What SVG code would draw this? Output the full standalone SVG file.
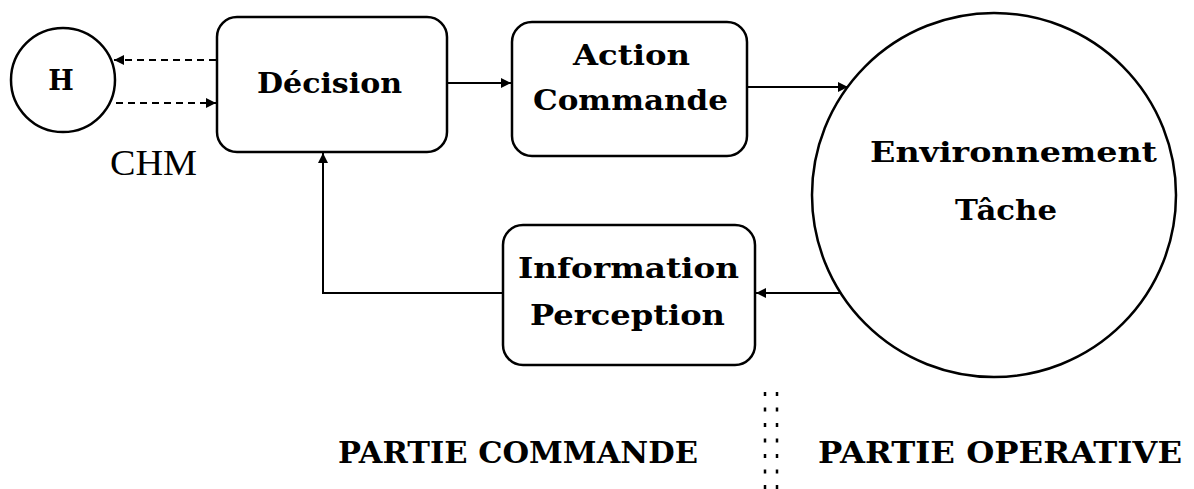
<svg xmlns="http://www.w3.org/2000/svg" width="1194" height="489" viewBox="0 0 1194 489">
  <style>
    .node { fill: #ffffff; stroke: #000000; stroke-width: 2.5; }
    .lbl { font-family: "DejaVu Serif", "Liberation Serif", serif; font-weight: bold; font-size: 27px; fill: #000000; }
    .chm { font-family: "Liberation Serif", "Times New Roman", serif; font-size: 35px; fill: #000000; }
    .part { font-family: "DejaVu Serif", "Liberation Serif", serif; font-weight: bold; font-size: 30px; fill: #000000; }
    .link { fill: none; stroke: #000000; stroke-width: 2; }
    .dash { stroke-dasharray: 7 5; }
    .sep { fill: none; stroke: #000000; stroke-width: 2.5; stroke-dasharray: 4 11.5; }
  </style>
  <defs>
    <marker id="tip" viewBox="0 0 10 10" refX="10" refY="5" markerWidth="5.5" markerHeight="5" orient="auto" markerUnits="strokeWidth">
      <path d="M0,0 L10,5 L0,10 Z" fill="#000000"/>
    </marker>
  </defs>

  <rect width="1194" height="489" fill="#ffffff"/>

  <!-- connectors -->
  <g id="connectors">
    <line class="link dash" x1="216" y1="60" x2="114" y2="60" marker-end="url(#tip)"/>
    <line class="link dash" x1="116" y1="103" x2="216" y2="103" marker-end="url(#tip)"/>
    <line class="link" x1="447" y1="83" x2="511" y2="83" marker-end="url(#tip)"/>
    <line class="link" x1="747" y1="87" x2="848" y2="87" marker-end="url(#tip)"/>
    <line class="link" x1="843" y1="293" x2="756" y2="293" marker-end="url(#tip)"/>
    <polyline class="link" points="503,293 323,293 323,153" marker-end="url(#tip)"/>
  </g>

  <!-- operator -->
  <g id="node-h">
    <circle class="node" cx="63" cy="80" r="52"/>
    <text class="lbl" x="61" y="90" text-anchor="middle">H</text>
  </g>
  <g id="label-chm">
    <text class="chm" x="110" y="175" textLength="87" lengthAdjust="spacingAndGlyphs">CHM</text>
  </g>

  <g id="node-decision">
    <rect class="node" x="217" y="17" width="230" height="135" rx="20" ry="20"/>
    <text class="lbl" x="257" y="93" textLength="145" lengthAdjust="spacingAndGlyphs">Décision</text>
  </g>

  <g id="node-action">
    <rect class="node" x="512" y="22" width="235" height="134" rx="20" ry="20"/>
    <text class="lbl" x="573" y="65" textLength="117" lengthAdjust="spacingAndGlyphs">Action</text>
    <text class="lbl" x="533" y="110" textLength="195" lengthAdjust="spacingAndGlyphs">Commande</text>
  </g>

  <g id="node-environnement">
    <circle class="node" cx="994" cy="195" r="182"/>
    <text class="lbl" x="870" y="162" textLength="287" lengthAdjust="spacingAndGlyphs">Environnement</text>
    <text class="lbl" x="955" y="220" textLength="102" lengthAdjust="spacingAndGlyphs">Tâche</text>
  </g>

  <g id="node-information">
    <rect class="node" x="503" y="225" width="252" height="140" rx="20" ry="20"/>
    <text class="lbl" x="518" y="278" textLength="221" lengthAdjust="spacingAndGlyphs">Information</text>
    <text class="lbl" x="530" y="325" textLength="195" lengthAdjust="spacingAndGlyphs">Perception</text>
  </g>

  <!-- boundary between the two parts -->
  <g id="separator">
    <line class="sep" x1="765" y1="392" x2="765" y2="489"/>
    <line class="sep" x1="777" y1="392" x2="777" y2="489"/>
  </g>
  <g id="label-parties">
    <text class="part" x="338" y="463" textLength="360" lengthAdjust="spacingAndGlyphs">PARTIE COMMANDE</text>
    <text class="part" x="818" y="463" textLength="364" lengthAdjust="spacingAndGlyphs">PARTIE OPERATIVE</text>
  </g>
</svg>
